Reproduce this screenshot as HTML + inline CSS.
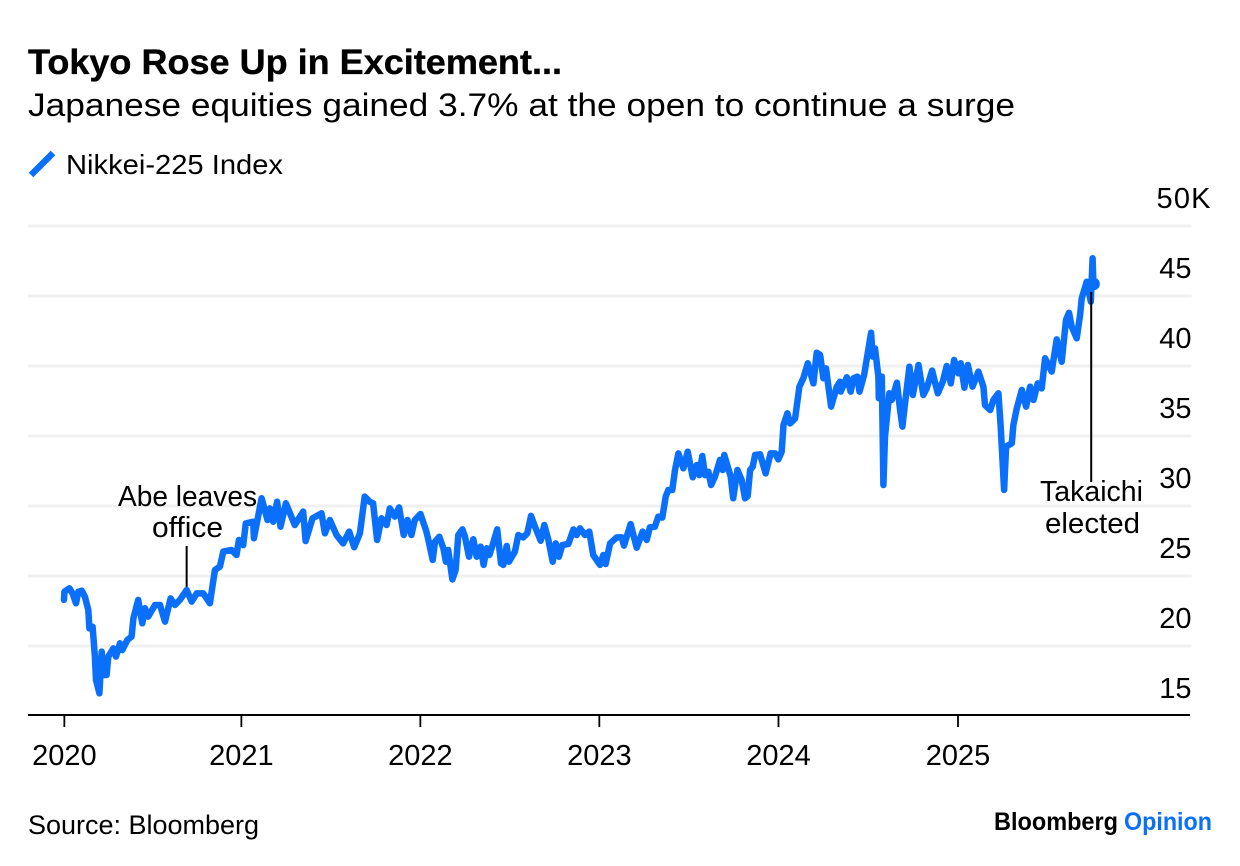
<!DOCTYPE html>
<html lang="en">
<head>
<meta charset="utf-8">
<title>Tokyo Rose Up in Excitement...</title>
<style>
html,body{margin:0;padding:0;background:#fff;width:1240px;height:866px;overflow:hidden}
svg{display:block}
text{font-family:"Liberation Sans",sans-serif;fill:#000}
</style>
</head>
<body>
<svg id="chart" xmlns="http://www.w3.org/2000/svg" width="1240" height="866" viewBox="0 0 1240 866">
  <rect x="0" y="0" width="1240" height="866" fill="#fff"/>
  <text x="28" y="74" font-size="35" font-weight="700" stroke="#000" stroke-width="0.35" textLength="534" lengthAdjust="spacingAndGlyphs">Tokyo Rose Up in Excitement...</text>
  <text x="28" y="116" font-size="32" textLength="987" lengthAdjust="spacingAndGlyphs">Japanese equities gained 3.7% at the open to continue a surge</text>
  <line x1="31" y1="175" x2="53" y2="153" stroke="#0a6ffb" stroke-width="6.5"/>
  <text x="66" y="174" font-size="28" textLength="217" lengthAdjust="spacingAndGlyphs">Nikkei-225 Index</text>
  <g id="grid"></g>
  <g id="yaxis"></g>
  <g id="xaxis"></g>
  <line id="leader-abe" y1="546" y2="590" stroke="#000" stroke-width="2"/>
  <path id="series-line" fill="none" stroke="#0a6ffb" stroke-width="6.5" stroke-linejoin="round" stroke-linecap="round"/>
  <circle id="end-dot" r="6.5" fill="#0a6ffb"/>
  <line id="leader-takaichi" y1="292" y2="482" stroke="#000" stroke-width="2"/>
  <g text-anchor="middle">
    <text x="187.5" y="506" font-size="28.5" textLength="139" lengthAdjust="spacingAndGlyphs">Abe leaves</text>
    <text x="187.5" y="537" font-size="28.5" textLength="71" lengthAdjust="spacingAndGlyphs">office</text>
  </g>
  <g text-anchor="middle">
    <text x="1091.5" y="501" font-size="28.5" textLength="103" lengthAdjust="spacingAndGlyphs">Takaichi</text>
    <text x="1092.5" y="533" font-size="28.5" textLength="95" lengthAdjust="spacingAndGlyphs">elected</text>
  </g>
  <text x="28" y="834" font-size="26.5" textLength="231" lengthAdjust="spacingAndGlyphs">Source: Bloomberg</text>
  <text x="994" y="830" font-size="25" font-weight="700" textLength="124" lengthAdjust="spacingAndGlyphs">Bloomberg</text>
  <text x="1124" y="830" font-size="25" font-weight="700" style="fill:#0a6ffb" textLength="88" lengthAdjust="spacingAndGlyphs">Opinion</text>
</svg>
<script>
// Years elapsed since 1 Jan 2020
const yearsSince2020 = [0,0.002,0.03,0.048,0.067,0.08,0.099,0.117,0.136,0.142,0.16,0.173,0.179,0.198,0.211,0.22,0.238,0.248,0.276,0.291,0.313,0.326,0.354,0.378,0.388,0.415,0.438,0.453,0.471,0.509,0.537,0.565,0.596,0.62,0.648,0.686,0.714,0.742,0.779,0.816,0.844,0.872,0.891,0.937,0.965,0.978,1.002,1.017,1.058,1.062,1.105,1.138,1.151,1.17,1.192,1.211,1.241,1.291,1.338,1.351,1.39,1.44,1.459,1.487,1.524,1.561,1.595,1.623,1.655,1.682,1.71,1.729,1.751,1.776,1.804,1.822,1.85,1.874,1.9,1.921,1.943,1.962,1.994,2.027,2.038,2.062,2.075,2.099,2.122,2.136,2.149,2.172,2.19,2.205,2.228,2.243,2.265,2.289,2.308,2.33,2.347,2.364,2.379,2.397,2.423,2.444,2.457,2.476,2.489,2.522,2.541,2.569,2.591,2.612,2.634,2.666,2.686,2.709,2.733,2.75,2.768,2.787,2.821,2.849,2.867,2.886,2.914,2.938,2.96,2.998,3.016,3.029,3.054,3.091,3.119,3.132,3.169,3.203,3.236,3.259,3.277,3.305,3.324,3.346,3.365,3.38,3.402,3.417,3.436,3.464,3.488,3.516,3.539,3.553,3.57,3.585,3.604,3.619,3.641,3.669,3.684,3.693,3.715,3.729,3.743,3.766,3.79,3.809,3.824,3.837,3.852,3.865,3.893,3.924,3.952,3.977,3.995,4.014,4.024,4.046,4.061,4.089,4.113,4.135,4.16,4.191,4.21,4.229,4.247,4.262,4.29,4.322,4.34,4.344,4.378,4.4,4.415,4.437,4.449,4.475,4.495,4.514,4.523,4.536,4.555,4.557,4.574,4.583,4.592,4.616,4.63,4.658,4.676,4.689,4.708,4.728,4.747,4.779,4.806,4.825,4.855,4.887,4.915,4.937,4.96,4.978,5.002,5.015,5.036,5.055,5.081,5.114,5.142,5.151,5.18,5.198,5.226,5.239,5.258,5.269,5.301,5.31,5.329,5.357,5.381,5.403,5.422,5.446,5.468,5.487,5.524,5.552,5.58,5.604,5.621,5.636,5.664,5.683,5.692,5.72,5.743,5.753,5.757];
// Nikkei-225 level, thousands
const nikkeiValues = [23.29,23.88,24.12,23.76,23.05,23.88,23.95,23.52,22.57,21.26,21.38,19.24,17.57,16.62,19.6,17.93,17.93,19.24,19.83,19.24,20.19,19.71,20.43,20.67,21.98,23.29,21.62,22.69,22.1,22.93,22.93,21.74,23.4,22.93,23.29,24,23.17,23.76,23.76,23.05,25.43,25.67,26.74,26.86,26.5,27.57,27.21,28.76,28.88,27.69,30.55,29,29.83,28.88,30.31,28.52,30.19,28.64,29.6,27.5,29.12,29.48,28.05,29,27.93,27.33,28.17,27.05,28.05,30.67,30.31,30.19,27.57,29.12,28.64,29.83,29.24,29.9,27.93,29,27.93,29,29.43,28.17,27.57,26.14,27.45,27.81,26.98,26.02,26.86,24.76,25.43,27.93,28.33,27.81,26.38,27.62,26.38,27.1,25.79,26.98,26.5,27.21,28.33,25.9,25.79,27.14,26.02,26.74,27.93,27.76,28.05,29.29,28.52,27.52,28.64,27.57,26.02,27.33,26.38,27.21,27.29,28.33,27.93,28.4,27.93,28.17,26.5,25.79,26.5,25.86,27.33,27.76,27.76,27.17,28.71,27.02,28.17,27.57,28.48,28.52,29.24,29.17,30.67,31.14,31.14,32.57,33.76,32.69,33.88,32.05,32.93,32.21,33.57,32.21,32.45,31.5,32.1,33.29,32.57,33.64,32.69,32.1,30.55,32.57,31.86,30.55,30.71,32.57,32.81,33.64,33.69,32.33,33.76,33.76,33.33,33.88,35.79,36.62,35.9,36.26,38.52,39.12,40.19,38.76,40.95,40.79,39.12,39.83,37.1,38.52,38.88,38.17,39.19,38.17,39.12,39.24,38.17,39.36,40.9,42.38,40.67,41.26,39.24,37.69,39.24,31.5,34.95,38.05,37.57,38.81,36.86,35.67,37.81,39.95,37.93,40.07,37.93,38.4,39.67,38.05,38.88,40,38.76,40.43,39.48,40.19,38.45,40.07,38.52,39.6,38.52,37.21,36.86,37.57,38.05,35.67,31.14,34.24,34.48,35.79,36.98,38.29,37.1,38.52,37.57,38.76,38.4,40.55,39.6,41.9,40.31,43.29,43.81,42.81,41.98,43.64,44.83,46.02,44.6,47.69,45.86];
const yTickValues = [15,20,25,30,35,40,45,50];
const yTickLabels = ["15","20","25","30","35","40","45","50K"];
const xTickYears = [0.002,0.992,1.993,2.994,3.996,5];
const xTickLabels = ["2020","2021","2022","2023","2024","2025"];
const abeEventYears = 0.686;
const takaichiEventYears = 5.745;

const NS = "http://www.w3.org/2000/svg";
function xScale(t){ return 64 + 178.8 * t; }
function yScale(v){ return 716 - 14 * (v - 15); }

const grid = document.getElementById("grid");
const yaxis = document.getElementById("yaxis");
yTickValues.forEach(function(v, i){
  const py = yScale(v);
  const isTop = i === yTickValues.length - 1;
  if (i > 0) {
    const g = document.createElementNS(NS, "line");
    
    
    g.setAttribute("x1", 28); g.setAttribute("x2", 1191.5);
    g.setAttribute("y1", py); g.setAttribute("y2", py);
    g.setAttribute("stroke", "#f0f0f0"); g.setAttribute("stroke-width", 3);
    grid.appendChild(g);
  }
  const t = document.createElementNS(NS, "text");
  
  
  t.setAttribute("x", isTop ? 1156.5 : 1191.5);
  t.setAttribute("y", py - 18);
  t.setAttribute("font-size", 29);
  t.setAttribute("text-anchor", isTop ? "start" : "end");
  if (isTop) t.setAttribute("textLength", 54);
  t.textContent = yTickLabels[i];
  yaxis.appendChild(t);
});

const xaxis = document.getElementById("xaxis");
const base = document.createElementNS(NS, "line");


base.setAttribute("x1", 28); base.setAttribute("x2", 1190);
base.setAttribute("y1", 715); base.setAttribute("y2", 715);
base.setAttribute("stroke", "#000"); base.setAttribute("stroke-width", 2);
xaxis.appendChild(base);
xTickYears.forEach(function(t, i){
  const px = xScale(t);
  const tick = document.createElementNS(NS, "line");
  
  
  tick.setAttribute("x1", px); tick.setAttribute("x2", px);
  tick.setAttribute("y1", 715); tick.setAttribute("y2", 727);
  tick.setAttribute("stroke", "#000"); tick.setAttribute("stroke-width", 1.8);
  xaxis.appendChild(tick);
  const lab = document.createElementNS(NS, "text");
  
  
  lab.setAttribute("x", px);
  lab.setAttribute("y", 765);
  lab.setAttribute("font-size", 29);
  lab.setAttribute("text-anchor", "middle");
  lab.textContent = xTickLabels[i];
  xaxis.appendChild(lab);
});

let d = "";
yearsSince2020.forEach(function(t, i){
  d += (i ? "L" : "M") + xScale(t).toFixed(1) + " " + yScale(nikkeiValues[i]).toFixed(1);
});
document.getElementById("series-line").setAttribute("d", d);
const lastIndex = nikkeiValues.length - 1;
const dot = document.getElementById("end-dot");
dot.setAttribute("cx", xScale(yearsSince2020[lastIndex]));
dot.setAttribute("cy", yScale(nikkeiValues[lastIndex]));
const la = document.getElementById("leader-abe");
la.setAttribute("x1", xScale(abeEventYears)); la.setAttribute("x2", xScale(abeEventYears));
const lt = document.getElementById("leader-takaichi");
lt.setAttribute("x1", xScale(takaichiEventYears)); lt.setAttribute("x2", xScale(takaichiEventYears));
</script>
</body>
</html>
